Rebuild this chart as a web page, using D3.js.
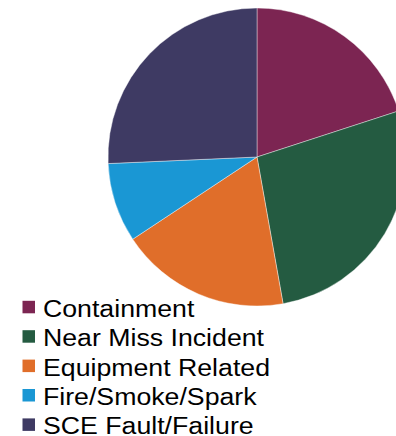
<!DOCTYPE html>
<html>
<head>
<meta charset="utf-8">
<script src="https://cdn.jsdelivr.net/npm/d3@7"></script>
<style>
  html, body { margin: 0; padding: 0; background: #fff; overflow: hidden; }
  svg { display: block; }
</style>
</head>
<body>
<svg id="chart" width="396" height="436"></svg>
<script>
// Incident categories and their share of the total (%)
const categories = ["Containment", "Near Miss Incident", "Equipment Related", "Fire/Smoke/Spark", "SCE Fault/Failure"];
const shares = [20.0, 27.2, 18.5, 8.6, 25.7];
const colors = ["#7c2552", "#245b41", "#e06e2a", "#1a97d4", "#3e3a63"];

const data = categories.map((c, i) => ({ category: c, value: shares[i] }));

const svg = d3.select("#chart");
const cx = 257, cy = 157, radius = 149;

const color = d3.scaleOrdinal().domain(categories).range(colors);

const pie = d3.pie().sort(null).value(d => d.value);
const arc = d3.arc().innerRadius(0).outerRadius(radius);

svg.append("g")
  .attr("transform", `translate(${cx},${cy})`)
  .selectAll("path")
  .data(pie(data))
  .join("path")
  .attr("d", arc)
  .attr("fill", d => color(d.data.category))
  .attr("stroke", "#ffffff")
  .attr("stroke-width", 0.4);

// Legend: one row per category, swatch then label
const rowH = 29.4;
const legend = svg.append("g").attr("transform", "translate(22,316.8)");
const rows = legend.selectAll("g")
  .data(categories)
  .join("g")
  .attr("transform", (d, i) => `translate(0,${i * rowH})`);

rows.append("rect")
  .attr("x", 0.5).attr("y", -16)
  .attr("width", 12.5).attr("height", 12.5)
  .attr("fill", d => color(d));

rows.append("text")
  .attr("transform", "translate(21,0) scale(1.09,1)")
  .attr("font-family", "'Liberation Sans', Arial, sans-serif")
  .attr("font-size", 24.5)
  .attr("fill", "#000")
  .text(d => d);
</script>
</body>
</html>
